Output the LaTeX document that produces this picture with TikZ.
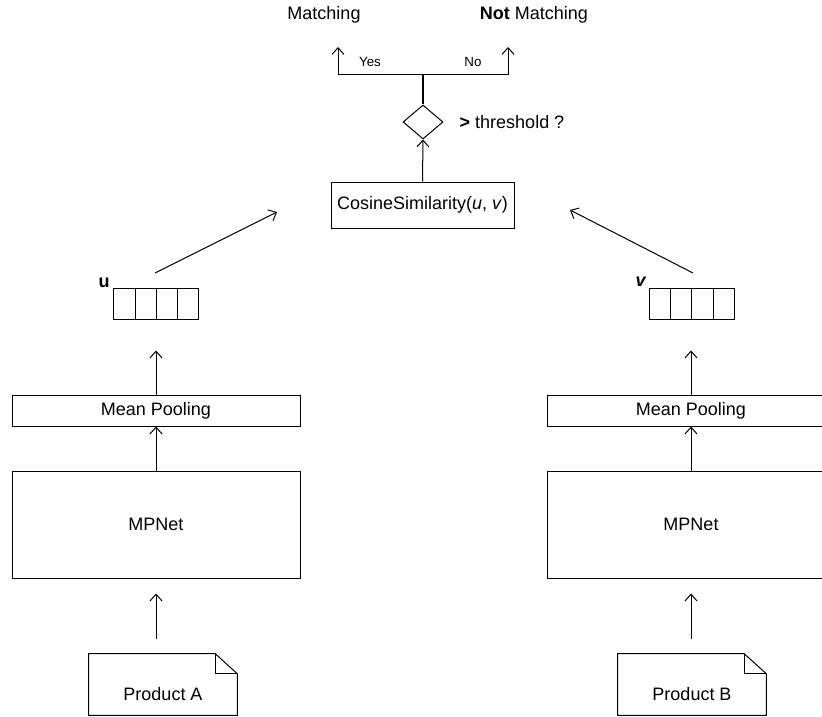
\documentclass[tikz,border=0pt]{standalone}
\usepackage{fontspec}
\setmainfont{Liberation Sans}
\usetikzlibrary{arrows.meta}
\usetikzlibrary{shapes.geometric}

\tikzset{
  box/.style = {draw, line width=0.75pt, inner sep=0pt},
  cell/.style = {draw, line width=0.75pt, minimum width=15.94pt, minimum height=23.25pt, inner sep=0pt},
  arr/.style = {-{Straight Barb[length=5pt, width=9pt]}, line width=0.75pt},
  small/.style = {font=\fontsize{10}{12}\selectfont},
}

\begin{document}
\begin{tikzpicture}[x=0.75pt, y=-0.75pt, font=\fontsize{13.5}{16}\selectfont]
                \useasboundingbox (0, 0) rectangle (822, 717);
                \clip (0, 0) rectangle (822, 717);
                % decision
                \node [box, minimum width=137.25pt, minimum height=34.5pt] (cos) at (422.5, 205) {CosineSimilarity(\textit{u}, \textit{v})};
                \node [box, diamond, minimum width=30pt, minimum height=25.5pt] (dia) at (423, 122) {};
                \node [anchor=west] (thr) at (455, 122) {\textbf{>} threshold ?};
                \coordinate (split) at (423, 75);
                \coordinate (tipL) at (338, 47);
                \coordinate (tipR) at (508, 47);
                \node (match) at (324, 15) {Matching};
                \node (nomatch) at (534, 15) {\textbf{Not} Matching};
                \node [small] (yes) at (370, 62) {Yes};
                \node [small] (no) at (473, 62) {No};
                \draw [arr] (cos.north) -- (dia.south);
                \draw [line width=1.2pt] (dia.north) -- (split);
                \draw [arr] (split) -| (tipL);
                \draw [arr] (split) -| (tipR);
                % embeddings
                \foreach \i in {0, 1, 2, 3} {
                    \node [cell] (u\i) at (124.6 + 21.25*\i, 303.5) {};
                    \node [cell] (v\i) at (660.1 + 21.25*\i, 303.5) {};
                }
                \node (ulab) at (104, 283) {\textbf{u}};
                \node (vlab) at (641, 282) {\textbf{\textit{v}}};
                \coordinate (uStart) at (155, 273);
                \coordinate (uEnd) at (277, 212);
                \coordinate (vStart) at (693, 273);
                \coordinate (vEnd) at (570, 210);
                \draw [arr] (uStart) -- (uEnd);
                \draw [arr] (vStart) -- (vEnd);
                % encoders
                \node [box, minimum width=216pt, minimum height=23.25pt] (mpA) at (156, 410.5) {Mean Pooling};
                \node [box, minimum width=216pt, minimum height=23.25pt] (mpB) at (691, 410.5) {Mean Pooling};
                \node [box, minimum width=216pt, minimum height=80.25pt] (mpnA) at (156, 524.5) {MPNet};
                \node [box, minimum width=216pt, minimum height=80.25pt] (mpnB) at (691, 524.5) {MPNet};
                \draw [arr, shorten >=23.25pt] (mpA.north) -- (mpA.north |- u1.south);
                \draw [arr, shorten >=23.25pt] (mpB.north) -- (mpB.north |- v1.south);
                \draw [arr] (mpnA.north) -- (mpA.south);
                \draw [arr] (mpnB.north) -- (mpB.south);
                % inputs
                \node [minimum width=111pt, minimum height=45.75pt] (pa) at (163, 684.5) {};
                \node [minimum width=111pt, minimum height=45.75pt] (pb) at (692, 684.5) {};
                \foreach \p in {pa, pb} {
                    \draw [line width=0.75pt] (\p.north west) -- ([xshift=-16.5pt]\p.north east) -- ([yshift=-15pt]\p.north east) -- (\p.south east) -- (\p.south west) -- cycle;
                    \draw [line width=0.75pt] ([xshift=-16.5pt]\p.north east) |- ([yshift=-15pt]\p.north east);
                }
                \node (patext) at ([yshift=-7pt]pa.center) {Product A};
                \node (pbtext) at ([yshift=-7pt]pb.center) {Product B};
                \draw [arr, shorten <=11.25pt, shorten >=11.25pt] (mpnA.south |- pa.north) -- (mpnA.south);
                \draw [arr, shorten <=11.25pt, shorten >=11.25pt] (mpnB.south |- pb.north) -- (mpnB.south);
            \end{tikzpicture}
\end{document}
